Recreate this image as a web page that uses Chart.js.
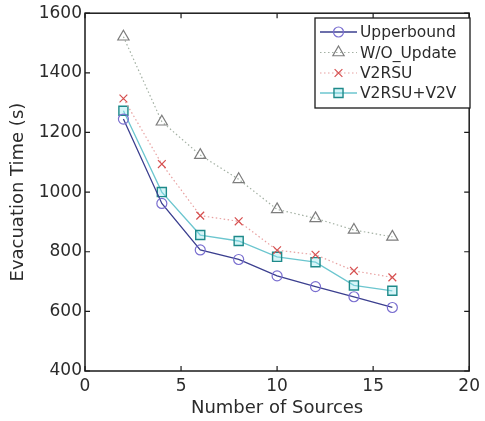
<!DOCTYPE html>
<html>
<head>
<meta charset="utf-8">
<script src="https://cdn.jsdelivr.net/npm/chart.js@4.4.1/dist/chart.umd.min.js"></script>
<style>
  html, body { margin: 0; padding: 0; background: #fff; }
</style>
</head>
<body>
<canvas id="myChart" width="485" height="421"></canvas>
<script>
// values
const sources = [2, 4, 6, 8, 10, 12, 14, 16];
const upperbound = [1245, 962, 806, 774, 719, 683, 649, 613];
const withoutUpdate = [1521, 1236, 1124, 1043, 942, 912, 873, 850];
const v2rsu = [1314, 1094, 921, 902, 805, 790, 736, 714];
const v2rsuV2v = [1273, 1000, 856, 836, 783, 765, 687, 669];
const xTicks = [0, 5, 10, 15, 20];
const yTicks = [400, 600, 800, 1000, 1200, 1400, 1600];
const seriesNames = ['Upperbound', 'W/O_Update', 'V2RSU', 'V2RSU+V2V'];

const FONT = 'DejaVu Sans';
const TEXT = '#2b2b2b';

const toPoints = (ys) => sources.map((x, i) => ({ x: x, y: ys[i] }));

const datasets = [
    {
        label: seriesNames[0],
        data: toPoints(upperbound),
        borderColor: '#3b3f8f',
        borderWidth: 1.3,
        pointStyle: 'circle',
        pointRadius: 5,
        pointBorderColor: '#7a6fd0',
        pointBackgroundColor: 'rgba(255,255,255,0)',
        pointBorderWidth: 1.2
    },
    {
        label: seriesNames[1],
        data: toPoints(withoutUpdate),
        borderColor: '#a3b0a3',
        borderWidth: 1.2,
        borderDash: [1.5, 2.5],
        pointStyle: 'triangle',
        pointRadius: 6.5,
        pointBorderColor: '#7d7d7d',
        pointBackgroundColor: 'rgba(255,255,255,0)',
        pointBorderWidth: 1.2
    },
    {
        label: seriesNames[2],
        data: toPoints(v2rsu),
        borderColor: '#e8a0a0',
        borderWidth: 1.2,
        borderDash: [1.5, 2.5],
        pointStyle: 'crossRot',
        pointRadius: 5.5,
        pointBorderColor: '#d65050',
        pointBackgroundColor: 'rgba(255,255,255,0)',
        pointBorderWidth: 1.2
    },
    {
        label: seriesNames[3],
        data: toPoints(v2rsuV2v),
        borderColor: '#6cc6cf',
        borderWidth: 1.3,
        pointStyle: 'rect',
        pointRadius: 6.4,
        pointBorderColor: '#1e8a8a',
        pointBackgroundColor: 'rgba(140,225,235,0.35)',
        pointBorderWidth: 1.4
    }
];

// matlab style box with inward ticks
const frame = {
    id: 'frame',
    afterDraw(chart) {
        const { ctx, chartArea: a, scales } = chart;
        ctx.save();
        ctx.strokeStyle = '#1a1a1a';
        ctx.lineWidth = 1.5;
        ctx.strokeRect(a.left, a.top, a.right - a.left, a.bottom - a.top);
        ctx.lineWidth = 1.2;
        ctx.beginPath();
        xTicks.forEach(v => {
            const px = scales.x.getPixelForValue(v);
            ctx.moveTo(px, a.bottom); ctx.lineTo(px, a.bottom - 5);
            ctx.moveTo(px, a.top); ctx.lineTo(px, a.top + 5);
        });
        yTicks.forEach(v => {
            const py = scales.y.getPixelForValue(v);
            ctx.moveTo(a.left, py); ctx.lineTo(a.left + 5, py);
            ctx.moveTo(a.right, py); ctx.lineTo(a.right - 5, py);
        });
        ctx.stroke();
        ctx.restore();
    }
};

// boxed legend in the upper right corner
const legendBox = {
    id: 'legendBox',
    afterDraw(chart) {
        const { ctx } = chart;
        const box = { left: 315, top: 18, right: 470, bottom: 108 };
        const rows = [32, 52.5, 73, 93];
        ctx.save();
        ctx.fillStyle = '#fff';
        ctx.fillRect(box.left, box.top, box.right - box.left, box.bottom - box.top);
        ctx.strokeStyle = '#1a1a1a';
        ctx.lineWidth = 1.3;
        ctx.strokeRect(box.left, box.top, box.right - box.left, box.bottom - box.top);
        chart.data.datasets.forEach((ds, i) => {
            const y = rows[i];
            ctx.save();
            ctx.strokeStyle = ds.borderColor;
            ctx.lineWidth = ds.borderWidth;
            ctx.setLineDash(ds.borderDash || []);
            ctx.beginPath();
            ctx.moveTo(320, y);
            ctx.lineTo(357, y);
            ctx.stroke();
            ctx.setLineDash([]);
            ctx.strokeStyle = ds.pointBorderColor;
            ctx.fillStyle = ds.pointBackgroundColor;
            ctx.lineWidth = ds.pointBorderWidth;
            Chart.helpers.drawPoint(ctx, {
                pointStyle: ds.pointStyle,
                radius: ds.pointRadius,
                rotation: 0,
                borderWidth: ds.pointBorderWidth
            }, 338.5, y);
            ctx.restore();
            ctx.fillStyle = TEXT;
            ctx.font = '15.5px "' + FONT + '"';
            ctx.textBaseline = 'middle';
            ctx.textAlign = 'left';
            ctx.fillText(ds.label, 360, y + 1);
        });
        ctx.restore();
    }
};

const config = {
    type: 'line',
    data: { datasets: datasets },
    options: {
        responsive: false,
        animation: false,
        layout: { padding: { top: 13, right: 11, bottom: 0, left: 0 } },
        plugins: {
            legend: { display: false },
            tooltip: { enabled: false }
        },
        scales: {
            x: {
                type: 'linear',
                min: 0,
                max: 20,
                afterBuildTicks: (s) => { s.ticks = xTicks.map(v => ({ value: v })); },
                afterFit: (s) => { s.height = 50; },
                grid: { display: false, drawTicks: false },
                border: { display: false },
                ticks: {
                    padding: 5,
                    maxRotation: 0,
                    color: TEXT,
                    font: { family: FONT, size: 17 },
                    callback: (v) => String(v)
                },
                title: {
                    display: true,
                    text: 'Number of Sources',
                    color: TEXT,
                    font: { family: FONT, size: 18 },
                    padding: { top: 0, bottom: 2 }
                }
            },
            y: {
                min: 400,
                max: 1600,
                afterBuildTicks: (s) => { s.ticks = yTicks.map(v => ({ value: v })); },
                afterFit: (s) => { s.width = 85; },
                grid: { display: false, drawTicks: false },
                border: { display: false },
                ticks: {
                    padding: 3,
                    color: TEXT,
                    font: { family: FONT, size: 17 },
                    callback: (v) => String(v)
                },
                title: {
                    display: true,
                    text: 'Evacuation Time (s)',
                    color: TEXT,
                    font: { family: FONT, size: 18 },
                    padding: { top: 8, bottom: 0 }
                }
            }
        }
    },
    plugins: [frame, legendBox]
};

const myChart = new Chart(document.getElementById('myChart'), config);
</script>
</body>
</html>
